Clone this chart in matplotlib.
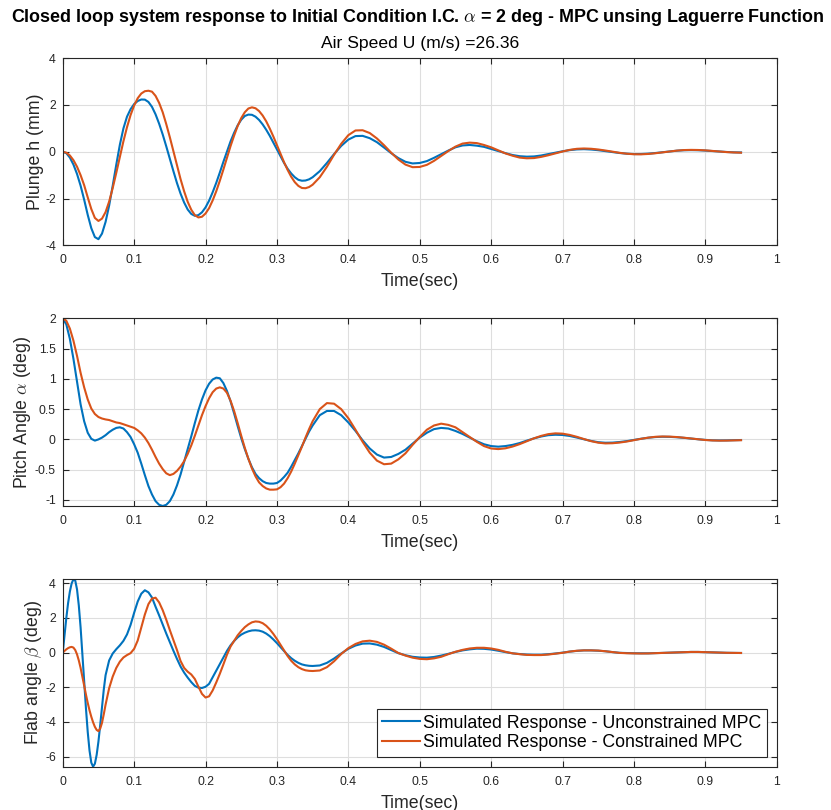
import numpy as np
import matplotlib
matplotlib.use("Agg")
import matplotlib.pyplot as plt

plt.rcParams["font.family"] = ["Liberation Sans", "DejaVu Sans"]
plt.rcParams["mathtext.fontset"] = "cm"
plt.rcParams["axes.unicode_minus"] = False

# ---------------------------------------------------------------- time bases
t_main = np.round(np.concatenate([np.arange(0, 0.3501, 0.005),
                                  np.arange(0.36, 0.9501, 0.01)]), 4)
t_flap = np.round(np.concatenate([np.arange(0, 0.0601, 0.0025),
                                  np.arange(0.065, 0.3501, 0.005),
                                  np.arange(0.36, 0.9501, 0.01)]), 4)

# ---------------------------------------------------------------- plunge h (mm)
plunge_unconstrained = [
    0.00, -0.06, -0.25, -0.55, -0.95, -1.45, -2.05, -2.70, -3.27, -3.65,
    -3.74, -3.50, -3.00, -2.30, -1.45, -0.55, 0.30, 1.00, 1.50, 1.82,
    2.04, 2.17, 2.235, 2.23, 2.13, 1.92, 1.60, 1.20, 0.74, 0.23,
    -0.30, -0.83, -1.34, -1.79, -2.17, -2.47, -2.66, -2.74, -2.71, -2.59,
    -2.38, -2.09, -1.73, -1.33, -0.89, -0.43, 0.01, 0.44, 0.81, 1.13,
    1.37, 1.53, 1.59, 1.58, 1.50, 1.36, 1.17, 0.94, 0.68, 0.39,
    0.09, -0.20, -0.48, -0.73, -0.93, -1.09, -1.20, -1.24, -1.23, -1.18,
    -1.09,
    -0.83, -0.48, -0.10, 0.25, 0.52, 0.67, 0.68, 0.58, 0.41, 0.18,
    -0.06, -0.27, -0.43, -0.50, -0.48, -0.40, -0.26, -0.105, 0.05, 0.19,
    0.27, 0.29, 0.26, 0.21, 0.12, 0.03, -0.06, -0.14, -0.19, -0.21,
    -0.20, -0.16, -0.10, -0.04, 0.02, 0.07, 0.10, 0.11, 0.095, 0.067,
    0.028, -0.014, -0.054, -0.083, -0.099, -0.097, -0.081, -0.054, -0.02, 0.015,
    0.045, 0.064, 0.07, 0.065, 0.05, 0.03, 0.01, -0.01, -0.025, -0.03,
]
plunge_constrained = [
    0.00, -0.04, -0.16, -0.36, -0.64, -1.00, -1.43, -1.95, -2.45, -2.83,
    -2.96, -2.86, -2.58, -2.13, -1.55, -0.90, -0.22, 0.45, 1.05, 1.57,
    1.98, 2.29, 2.49, 2.59, 2.61, 2.57, 2.39, 2.09, 1.69, 1.18,
    0.62, 0.02, -0.58, -1.17, -1.69, -2.14, -2.48, -2.71, -2.81, -2.78,
    -2.64, -2.41, -2.08, -1.69, -1.24, -0.76, -0.26, 0.24, 0.69, 1.10,
    1.44, 1.69, 1.85, 1.90, 1.86, 1.74, 1.55, 1.30, 0.99, 0.65,
    0.28, -0.09, -0.45, -0.78, -1.07, -1.30, -1.46, -1.55, -1.56, -1.51,
    -1.41,
    -1.09, -0.64, -0.13, 0.34, 0.71, 0.91, 0.92, 0.80, 0.57, 0.28,
    -0.04, -0.33, -0.55, -0.66, -0.65, -0.56, -0.39, -0.18, 0.03, 0.22,
    0.35, 0.39, 0.37, 0.29, 0.19, 0.06, -0.07, -0.17, -0.25, -0.28,
    -0.27, -0.22, -0.15, -0.07, 0.01, 0.08, 0.126, 0.14, 0.128, 0.097,
    0.053, 0.003, -0.046, -0.084, -0.106, -0.11, -0.094, -0.064, -0.027, 0.013,
    0.048, 0.072, 0.08, 0.075, 0.06, 0.035, 0.01, -0.015, -0.03, -0.04,
]

# ---------------------------------------------------------------- pitch alpha (deg)
pitch_unconstrained = [
    2.00, 1.90, 1.66, 1.33, 0.95, 0.58, 0.30, 0.11, 0.01, -0.02,
    0.00, 0.03, 0.07, 0.12, 0.16, 0.19, 0.20, 0.18, 0.12, 0.04,
    -0.08, -0.22, -0.40, -0.59, -0.77, -0.91, -1.02, -1.08, -1.10, -1.08,
    -1.02, -0.91, -0.76, -0.58, -0.37, -0.16, 0.05, 0.27, 0.48, 0.66,
    0.81, 0.92, 0.99, 1.02, 1.01, 0.93, 0.80, 0.63, 0.43, 0.22,
    0.02, -0.16, -0.32, -0.46, -0.57, -0.64, -0.69, -0.72, -0.73, -0.73,
    -0.72, -0.68, -0.62, -0.55, -0.45, -0.34, -0.23, -0.11, 0.01, 0.13,
    0.23,
    0.40, 0.47, 0.47, 0.40, 0.28, 0.14, -0.015, -0.15, -0.25, -0.30,
    -0.29, -0.24, -0.17, -0.07, 0.03, 0.11, 0.17, 0.19, 0.18, 0.14,
    0.09, 0.03, -0.03, -0.08, -0.11, -0.12, -0.11, -0.09, -0.06, -0.02,
    0.017, 0.048, 0.07, 0.077, 0.073, 0.057, 0.031, 0.002, -0.025, -0.046,
    -0.055, -0.053, -0.043, -0.028, -0.008, 0.011, 0.028, 0.039, 0.044, 0.042,
    0.036, 0.026, 0.014, 0.002, -0.008, -0.015, -0.017, -0.016, -0.013, -0.010,
]
pitch_constrained = [
    2.00, 1.96, 1.83, 1.63, 1.38, 1.10, 0.86, 0.66, 0.51, 0.42,
    0.37, 0.345, 0.33, 0.32, 0.30, 0.28, 0.27, 0.25, 0.23, 0.21,
    0.19, 0.15, 0.10, 0.03, -0.06, -0.17, -0.29, -0.40, -0.49, -0.56,
    -0.59, -0.57, -0.52, -0.45, -0.36, -0.24, -0.10, 0.06, 0.23, 0.40,
    0.55, 0.68, 0.78, 0.84, 0.86, 0.84, 0.77, 0.64, 0.47, 0.27,
    0.06, -0.14, -0.32, -0.48, -0.61, -0.71, -0.77, -0.81, -0.83, -0.83,
    -0.825, -0.79, -0.73, -0.64, -0.53, -0.40, -0.26, -0.12, 0.03, 0.17,
    0.30,
    0.50, 0.60, 0.59, 0.50, 0.35, 0.16, -0.04, -0.22, -0.35, -0.41,
    -0.40, -0.33, -0.23, -0.09, 0.04, 0.16, 0.23, 0.26, 0.24, 0.20,
    0.12, 0.04, -0.04, -0.11, -0.15, -0.16, -0.147, -0.118, -0.078, -0.03,
    0.018, 0.058, 0.087, 0.10, 0.095, 0.074, 0.043, 0.006, -0.029, -0.054,
    -0.066, -0.063, -0.052, -0.035, -0.012, 0.010, 0.029, 0.043, 0.048, 0.046,
    0.039, 0.028, 0.015, 0.001, -0.010, -0.017, -0.020, -0.019, -0.016, -0.013,
]

# ---------------------------------------------------------------- flap beta (deg)
flap_unconstrained = [
    0.00, 1.03, 2.00, 2.86, 3.53, 4.00, 4.23, 4.16, 3.65, 2.72,
    1.46, -0.05, -1.64, -3.21, -4.58, -5.65, -6.35, -6.58, -6.41, -5.90,
    -5.13, -4.17, -3.13, -2.12, -1.30,
    -0.45, -0.05, 0.20, 0.42, 0.68, 1.05, 1.60, 2.30, 2.95, 3.40,
    3.60, 3.48, 3.18, 2.65, 2.15, 1.62, 1.10, 0.60, 0.11, -0.36,
    -0.80, -1.15, -1.44, -1.70, -1.92, -2.02, -2.04, -1.97, -1.80, -1.42,
    -1.05, -0.66, -0.27, 0.10, 0.42, 0.67, 0.88, 1.04, 1.15, 1.23,
    1.28, 1.29, 1.27, 1.21, 1.10, 0.95, 0.76, 0.55, 0.32, 0.09,
    -0.13, -0.32, -0.47, -0.59, -0.68, -0.73, -0.76, -0.77,
    -0.74, -0.59, -0.34, -0.05, 0.22, 0.41, 0.52, 0.53, 0.46, 0.33,
    0.15, -0.03, -0.15, -0.24, -0.28, -0.29, -0.25, -0.17, -0.07, 0.04,
    0.13, 0.19, 0.23, 0.22, 0.18, 0.11, 0.03, -0.04, -0.08, -0.11,
    -0.12, -0.12, -0.09, -0.05, 0.00, 0.06, 0.10, 0.13, 0.13, 0.11,
    0.08, 0.03, -0.01, -0.025, -0.035, -0.04, -0.04, -0.03, -0.015, 0.00,
    0.02, 0.035, 0.04, 0.04, 0.03, 0.015, 0.00, -0.01, -0.015, -0.02,
]
flap_constrained = [
    0.00, 0.10, 0.19, 0.26, 0.31, 0.33, 0.29, 0.15, -0.10, -0.45,
    -0.88, -1.38, -1.90, -2.42, -2.90, -3.33, -3.70, -4.02, -4.28, -4.46,
    -4.53, -4.38, -4.05, -3.55, -3.00,
    -2.05, -1.38, -0.88, -0.52, -0.28, -0.14, -0.03, 0.22, 0.70, 1.45,
    2.20, 2.80, 3.12, 3.17, 2.90, 2.45, 1.90, 1.30, 0.72, 0.15,
    -0.48, -0.88, -1.10, -1.26, -1.52, -1.96, -2.38, -2.59, -2.52, -2.18,
    -1.72, -1.22, -0.68, -0.12, 0.35, 0.68, 1.00, 1.25, 1.47, 1.63,
    1.75, 1.80, 1.78, 1.70, 1.55, 1.34, 1.08, 0.78, 0.45, 0.11,
    -0.20, -0.47, -0.68, -0.84, -0.95, -1.02, -1.05, -1.06,
    -1.03, -0.84, -0.50, -0.08, 0.26, 0.50, 0.65, 0.69, 0.62, 0.46,
    0.23, -0.02, -0.17, -0.29, -0.36, -0.38, -0.33, -0.24, -0.09, 0.05,
    0.16, 0.24, 0.28, 0.28, 0.24, 0.16, 0.05, -0.04, -0.09, -0.13,
    -0.14, -0.14, -0.11, -0.06, -0.01, 0.06, 0.11, 0.13, 0.13, 0.12,
    0.08, 0.03, -0.015, -0.035, -0.045, -0.05, -0.045, -0.03, -0.015, 0.005,
    0.02, 0.035, 0.04, 0.04, 0.03, 0.015, 0.00, -0.01, -0.015, -0.02,
]

# ---------------------------------------------------------------- labels / ticks
x_ticks = [0, 0.1, 0.2, 0.3, 0.4, 0.5, 0.6, 0.7, 0.8, 0.9, 1.0]
x_tick_labels = ["0", "0.1", "0.2", "0.3", "0.4", "0.5", "0.6", "0.7", "0.8", "0.9", "1"]
plunge_ticks = [-4, -2, 0, 2, 4]
pitch_ticks = [-1, -0.5, 0, 0.5, 1, 1.5, 2]
pitch_tick_labels = ["-1", "-0.5", "0", "0.5", "1", "1.5", "2"]
flap_ticks = [-6, -4, -2, 0, 2, 4]
series_names = ["Simulated Response - Unconstrained MPC",
                "Simulated Response - Constrained MPC"]

BLUE = "#0072BD"
ORANGE = "#D95319"
INK = "#262626"
NARROW = ["Liberation Sans Narrow", "Liberation Sans"]

fig = plt.figure(figsize=(8.31, 8.10), dpi=100)

panels = [
    dict(pos=[0.0755, 0.6972, 0.8592, 0.2309], t=t_main,
         y=(plunge_unconstrained, plunge_constrained), ylim=(-4, 4),
         yticks=plunge_ticks, yticklabels=[str(v) for v in plunge_ticks],
         ylabel="Plunge h (mm)"),
    dict(pos=[0.0755, 0.3753, 0.8592, 0.2317], t=t_main,
         y=(pitch_unconstrained, pitch_constrained), ylim=(-1.1, 2),
         yticks=pitch_ticks, yticklabels=pitch_tick_labels,
         ylabel=r"Pitch Angle $\alpha$ (deg)"),
    dict(pos=[0.0755, 0.0535, 0.8592, 0.2317], t=t_flap,
         y=(flap_unconstrained, flap_constrained), ylim=(-6.58, 4.25),
         yticks=flap_ticks, yticklabels=[str(v) for v in flap_ticks],
         ylabel=r"Flab angle $\beta$ (deg)"),
]

axes = []
for p in panels:
    ax = fig.add_axes(p["pos"])
    ax.plot(p["t"], p["y"][0], color=BLUE, lw=1.5, label=series_names[0])
    ax.plot(p["t"], p["y"][1], color=ORANGE, lw=1.5, label=series_names[1])
    ax.set_xlim(0, 1)
    ax.set_ylim(*p["ylim"])
    ax.set_xticks(x_ticks)
    ax.set_xticklabels(x_tick_labels)
    ax.set_yticks(p["yticks"])
    ax.set_yticklabels(p["yticklabels"])
    ax.grid(True, color="#dedede", lw=0.8)
    ax.set_axisbelow(True)
    ax.tick_params(direction="in", length=4, width=0.8, colors=INK,
                   labelsize=8.8, top=True, right=True)
    ax.tick_params(axis="x", pad=6.5)
    ax.tick_params(axis="y", pad=5)
    for s in ax.spines.values():
        s.set_color(INK)
        s.set_linewidth(0.8)
    ax.set_xlabel("Time(sec)", fontsize=12.8, color=INK, labelpad=5)
    ax.set_ylabel(p["ylabel"], fontsize=12.8, color=INK, labelpad=1)
    axes.append(ax)

leg = axes[2].legend(loc="lower right", bbox_to_anchor=(0.986, 0.053),
                     borderaxespad=0, fontsize=12.8, fancybox=False,
                     framealpha=1, edgecolor=INK, handlelength=2.1,
                     handletextpad=0.2, borderpad=0.3, labelspacing=0.15)
leg.get_frame().set_linewidth(0.8)

fig.text(0.5024, 0.978,
         r"Closed loop system response to Initial Condition I.C. $\alpha$ = 2 deg - MPC unsing Laguerre Function",
         ha="center", va="center", fontsize=12.9, fontweight="bold", color="black",
         family=NARROW)
fig.text(0.505, 0.9457, "Air Speed U (m/s) =26.36", ha="center", va="center",
         fontsize=12.6, color="black", family=NARROW)

fig.savefig("out.png", dpi=100)
